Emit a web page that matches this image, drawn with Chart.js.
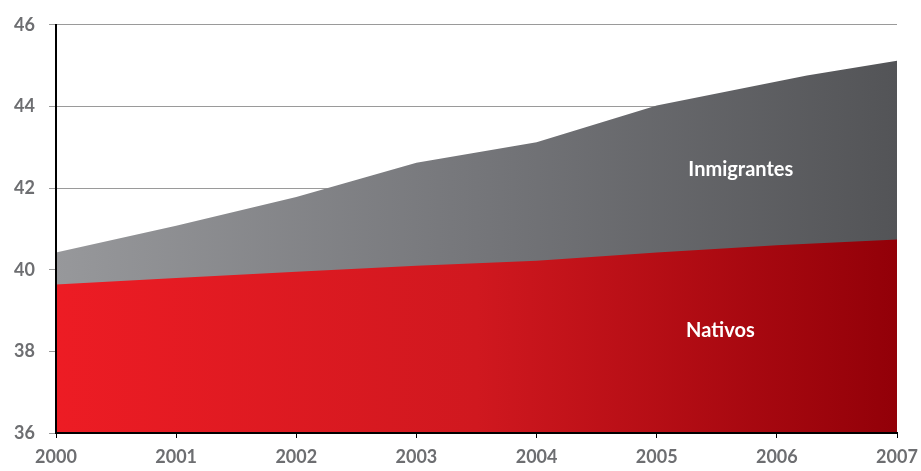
<!DOCTYPE html>
<html>
<head>
<title>Nativos / Inmigrantes</title>
<style>
  body { margin: 0; background: #fff; }
  .chart-container { position: relative; width: 921px; height: 471px; }
</style>
</head>
<body>
<div class="chart-container">
<canvas id="mycanvas" width="921" height="471"></canvas>
</div>

<script src="https://cdn.jsdelivr.net/npm/chart.js@4/dist/chart.umd.min.js"></script>
<script>
// values (top edge of each area)
var nativosYears = [2000, 2001, 2002, 2003, 2004, 2005, 2006, 2007];
var nativos = [39.64, 39.80, 39.95, 40.10, 40.22, 40.42, 40.60, 40.74];

var totalYears = [2000, 2001, 2002, 2003, 2004, 2005, 2006.25, 2007];
var total = [40.42, 41.08, 41.78, 42.62, 43.12, 44.02, 44.76, 45.12];

var yTicks = [36, 38, 40, 42, 44, 46];
var xTicks = [2000, 2001, 2002, 2003, 2004, 2005, 2006, 2007];

var areaLabels = [
  { text: "Inmigrantes", x: 2005.7, y: 42.45 },
  { text: "Nativos", x: 2005.53, y: 38.5 }
];

function toPoints(xs, ys) {
  var pts = [];
  for (var i in xs) pts.push({ x: xs[i], y: ys[i] });
  return pts;
}

function hGradient(c0, c1, c2) {
  return function(context) {
    var chart = context.chart;
    var area = chart.chartArea;
    if (!area) return c0;
    var g = chart.ctx.createLinearGradient(area.left, 0, area.right, 0);
    g.addColorStop(0, c0);
    g.addColorStop(0.5, c1);
    g.addColorStop(1, c2);
    return g;
  };
}

var labelPlugin = {
  id: 'areaLabels',
  afterDatasetsDraw: function(chart) {
    var ctx = chart.ctx;
    var xs = chart.scales.x, ys = chart.scales.y;
    ctx.save();
    ctx.fillStyle = '#ffffff';
    ctx.font = 'bold 20px Lato, "Open Sans", sans-serif';
    ctx.textAlign = 'center';
    ctx.textBaseline = 'middle';
    areaLabels.forEach(function(l) {
      ctx.fillText(l.text, xs.getPixelForValue(l.x), ys.getPixelForValue(l.y));
    });
    ctx.restore();
  }
};

var ctx = document.getElementById('mycanvas');

new Chart(ctx, {
  type: 'line',
  data: {
    datasets: [
      {
        label: 'Nativos',
        data: toPoints(nativosYears, nativos),
        fill: 'start',
        backgroundColor: hGradient('#ed1c24', '#d0181f', '#920008'),
        borderWidth: 0,
        pointRadius: 0,
        tension: 0
      },
      {
        label: 'Inmigrantes',
        data: toPoints(totalYears, total),
        fill: 'start',
        backgroundColor: hGradient('#97989b', '#75767a', '#535457'),
        borderWidth: 0,
        pointRadius: 0,
        tension: 0
      }
    ]
  },
  options: {
    responsive: false,
    animation: false,
    devicePixelRatio: 1,
    layout: { padding: { top: 22, right: 0, left: 0, bottom: 0 } },
    plugins: {
      legend: { display: false },
      tooltip: { enabled: false }
    },
    scales: {
      x: {
        type: 'linear',
        min: 2000,
        max: 2007,
        afterBuildTicks: function(scale) {
          scale.ticks = xTicks.map(function(v) { return { value: v }; });
        },
        afterFit: function(scale) {
          scale.height = 38;
          scale.paddingLeft = 0;
          scale.paddingRight = 24;
        },
        border: { color: '#000', width: 2, z: 1 },
        grid: { drawOnChartArea: false, drawTicks: true, tickLength: 5, color: '#000' },
        ticks: {
          autoSkip: false,
          callback: function(v) { return String(v); },
          color: '#6d6e71',
          padding: 8,
          maxRotation: 0,
          font: { family: 'Lato, "Open Sans", sans-serif', size: 18, weight: 'bold' }
        }
      },
      y: {
        min: 36,
        max: 46,
        afterBuildTicks: function(scale) {
          scale.ticks = yTicks.map(function(v) { return { value: v }; });
        },
        afterFit: function(scale) { scale.width = 56; },
        border: { color: '#000', width: 2, z: 1 },
        grid: { color: '#9a9a9a', lineWidth: 1, tickLength: 7 },
        ticks: {
          autoSkip: false,
          color: '#6d6e71',
          padding: 14,
          font: { family: 'Lato, "Open Sans", sans-serif', size: 18, weight: 'bold' }
        }
      }
    }
  },
  plugins: [labelPlugin]
});
</script>
</body>
</html>
